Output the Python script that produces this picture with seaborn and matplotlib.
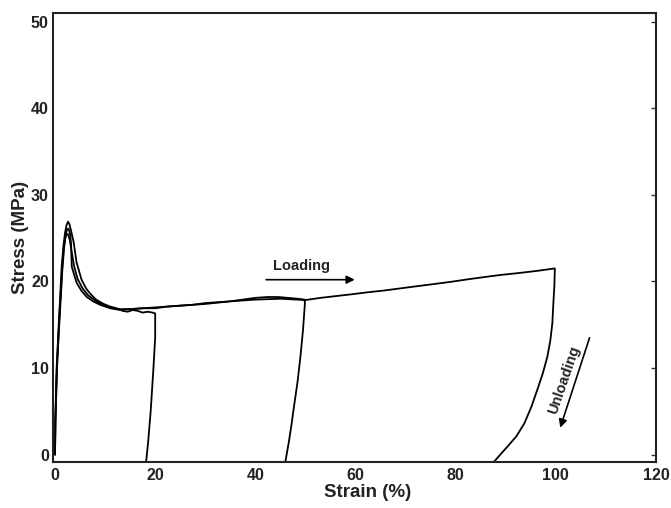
import matplotlib
matplotlib.use("Agg")
import matplotlib.pyplot as plt
import seaborn as sns
import pandas as pd

# Cyclic tensile test: three specimens loaded to 20 %, 50 % and 100 % strain, then unloaded
strain_20_load = [0, 0.05, 0.33, 0.65, 1.0, 1.33, 1.7, 2.0, 2.3, 2.6, 2.9, 3.3, 3.7, 4.3, 5.3,
                  6.2, 7.0, 8.2, 9.7, 11.0, 12.3, 13.5, 14.5, 15.5, 16.5, 17.5, 18.5, 19.5, 20.0]
stress_20_load = [0, 4, 10.1, 14, 17.9, 21.7, 24.2, 25.6, 26.5, 26.9, 26.6, 25.6, 24.6, 22.2, 20.2,
                  19.2, 18.6, 17.9, 17.4, 17.1, 16.9, 16.6, 16.5, 16.7, 16.6, 16.4, 16.5, 16.4, 16.3]
strain_20_unload = [20.0, 20.0, 19.6, 19.1, 18.6, 18.2]
stress_20_unload = [16.3, 13.5, 9.5, 5.0, 1.5, -0.8]

strain_50_load = [0, 0.1, 0.4, 0.75, 1.1, 1.45, 1.8, 2.1, 2.4, 2.7, 3.0, 3.2, 3.35, 3.8, 4.35,
                  5.3, 6.35, 7.6, 9.0, 11.0, 13.0, 15.0, 17.5, 20.0, 22.5, 25.0, 27.5, 30.0,
                  32.5, 35.0, 37.5, 40.0, 42.5, 44.5, 46.5, 48.5, 49.8]
stress_50_load = [0, 4, 10, 14, 17.6, 21.2, 23.8, 25.3, 26.0, 26.1, 25.5, 24.4, 21.7, 20.8, 19.8,
                  18.9, 18.2, 17.7, 17.3, 16.9, 16.7, 16.8, 16.9, 16.9, 17.1, 17.2, 17.3, 17.5,
                  17.6, 17.7, 17.9, 18.1, 18.2, 18.2, 18.1, 18.0, 17.9]
strain_50_unload = [49.9, 49.5, 49.0, 48.4, 47.7, 47.2, 46.7, 46.0]
stress_50_unload = [17.5, 14.3, 11.3, 8.3, 5.5, 3.4, 1.5, -0.8]

strain_100_load = [0, 0.08, 0.37, 0.7, 1.05, 1.4, 1.75, 2.05, 2.35, 2.65, 2.95, 3.3, 3.8, 4.5,
                   5.5, 6.6, 8.0, 9.5, 11.0, 12.5, 15, 17.5, 20, 25, 30, 35, 40, 45, 50, 53,
                   56, 59, 62.5, 65.7, 69, 72.3, 75.7, 79, 82.5, 85.7, 89, 92.3, 96, 99.8]
stress_100_load = [0, 4, 10, 14, 17.8, 21.4, 24.0, 25.0, 25.5, 25.4, 24.8, 23.5, 21.8, 20.3,
                   19.2, 18.4, 17.8, 17.3, 17.0, 16.8, 16.8, 16.9, 17.0, 17.2, 17.4, 17.7, 17.9,
                   18.0, 17.85, 18.1, 18.3, 18.5, 18.75, 18.95, 19.2, 19.45, 19.7, 19.95, 20.25,
                   20.5, 20.75, 20.95, 21.2, 21.5]
strain_100_unload = [99.7, 99.5, 99.3, 98.9, 98.3, 97.4, 96.3, 95.1, 93.7, 92.1, 90.3, 88.9, 87.7]
stress_100_unload = [19.5, 17.5, 15.2, 13.2, 11.3, 9.4, 7.5, 5.5, 3.6, 2.1, 0.9, 0.0, -0.8]

x_ticks = [0, 20, 40, 60, 80, 100, 120]
y_ticks = [0, 10, 20, 30, 40, 50]

frames = []
for name, xs, ys in [
    ("20", strain_20_load + strain_20_unload, stress_20_load + stress_20_unload),
    ("50", strain_50_load + strain_50_unload, stress_50_load + stress_50_unload),
    ("100", strain_100_load + strain_100_unload, stress_100_load + stress_100_unload),
]:
    frames.append(pd.DataFrame({"strain": xs, "stress": ys, "test": name}))
df = pd.concat(frames, ignore_index=True)

sns.set_theme(style="white")
plt.rcParams["font.family"] = ["Liberation Sans", "DejaVu Sans"]
plt.rcParams["font.weight"] = "bold"

fig = plt.figure(figsize=(6.71, 5.08), dpi=100)
ax = fig.add_axes([0.079, 0.0915, 0.8987, 0.8829])

sns.lineplot(data=df, x="strain", y="stress", units="test", estimator=None, sort=False,
             color="black", linewidth=1.3, ax=ax, legend=False)

ax.set_xlim(-0.4, 120)
ax.set_ylim(-0.8, 51)
ax.set_xticks(x_ticks)
ax.set_yticks(y_ticks)
ax.set_xticklabels([str(v) for v in x_ticks], fontsize=11.5, fontweight="bold")
ax.set_yticklabels([str(v) for v in y_ticks], fontsize=11.5, fontweight="bold")
ax.tick_params(axis="both", direction="in", length=3.5, width=1, color="#333333",
               right=True, labelcolor="#222222")
ax.tick_params(axis="y", pad=3)
ax.tick_params(axis="x", pad=4.5)

for side in ax.spines.values():
    side.set_color("#222222")
    side.set_linewidth(1.5)

ax.set_xlabel("Strain (%)", fontsize=13.5, fontweight="bold", color="#222222")
ax.set_ylabel("Stress (MPa)", fontsize=13.5, fontweight="bold", color="#222222")
ax.xaxis.set_label_coords(0.522, -0.05)
ax.yaxis.set_label_coords(-0.04, 0.5)

# Direction annotations
ax.annotate("", xy=(60.4, 20.2), xytext=(41.6, 20.2),
            arrowprops=dict(arrowstyle="-|>", color="black", lw=1.2, mutation_scale=12))
ax.text(49.3, 21.8, "Loading", fontsize=10.5, fontweight="bold", ha="center", va="center",
        color="#222222")
ax.annotate("", xy=(100.7, 2.8), xytext=(106.9, 13.8),
            arrowprops=dict(arrowstyle="-|>", color="black", lw=1.2, mutation_scale=12))
ax.text(101.6, 8.6, "Unloading", fontsize=10.5, fontweight="bold", ha="center", va="center",
        rotation=71, rotation_mode="anchor", color="#222222")

fig.savefig("out.png", dpi=100)
